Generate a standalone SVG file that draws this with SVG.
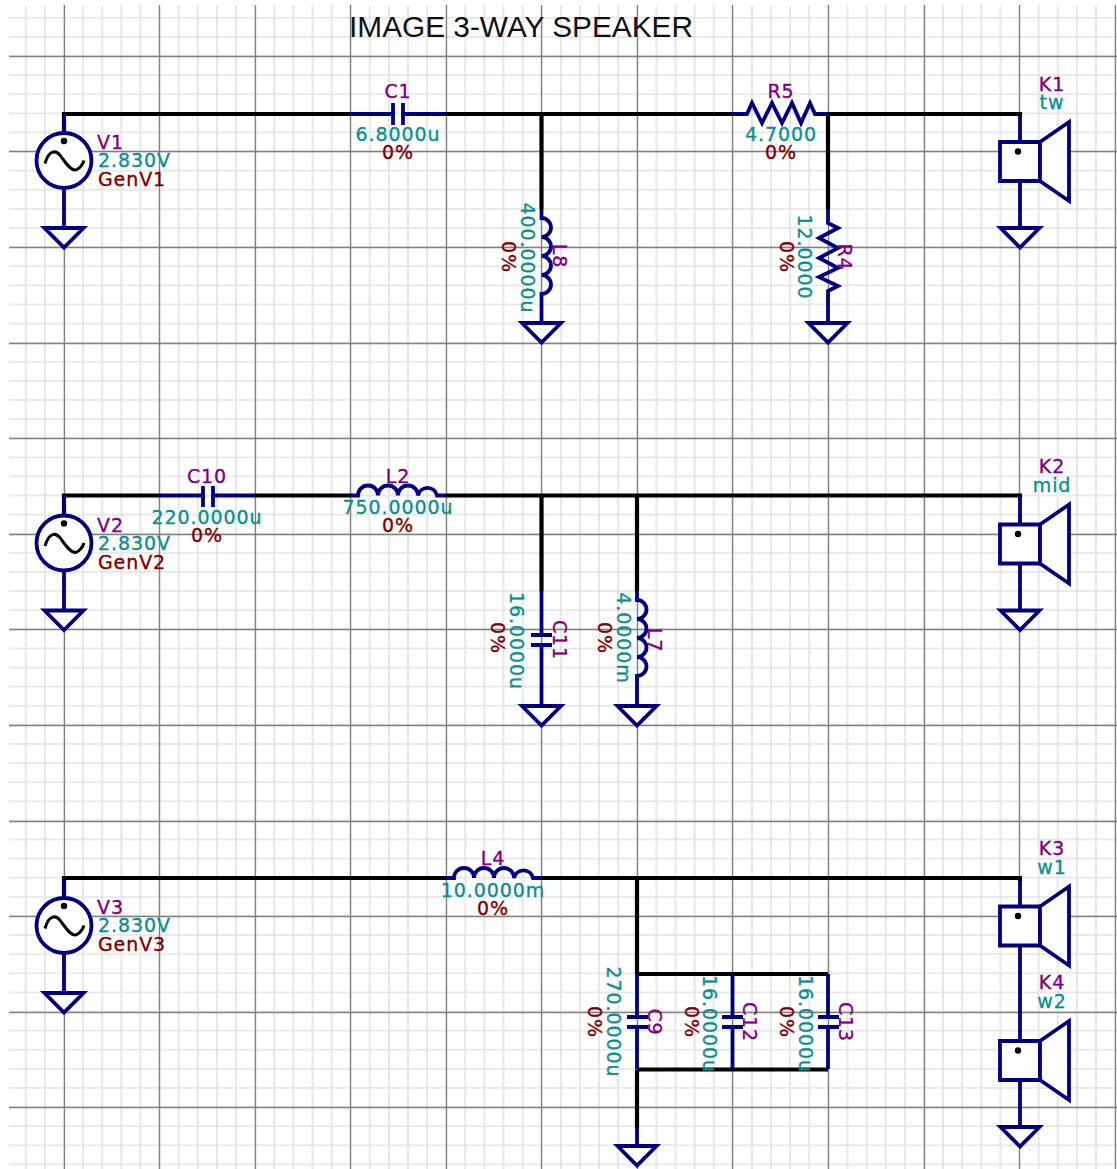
<svg xmlns="http://www.w3.org/2000/svg" width="1117" height="1169" viewBox="0 0 1117 1169">
<style>
.w{fill:none;stroke:#000;stroke-width:4.2}
.c{fill:none;stroke:#000080;stroke-width:3.8}
.f{fill:#fff;stroke:#000080;stroke-width:3.8}
text{font-family:"DejaVu Sans",Verdana,sans-serif;font-size:19px;text-anchor:middle;letter-spacing:.9px;stroke-width:.35px}
.n{fill:#800080;stroke:#800080}.v{fill:#0a8f8f;stroke:#0a8f8f}.t{fill:#800000;stroke:#800000}
.l{text-anchor:start}
.h{font-family:"Liberation Sans",Arial,sans-serif;font-size:29.800px;fill:#111;letter-spacing:0;stroke:none}
</style>
<defs>
<pattern id="gmin" patternUnits="userSpaceOnUse" x="54.45" y="46.45" width="19.11" height="19.11"><path d="M9.555 0V19.11M0 9.555H19.11" stroke="#e2e2e2" stroke-width="1.6" fill="none"/></pattern>
<g id="gnd"><path class="f" d="M-19.5 0H19.5L0 19.5Z"/></g>
<g id="src"><circle class="f" r="27.5"/><circle cy="-19.5" r="3.2" fill="#000"/><path d="M-19 3C-15-11-8-11-3-4S8 12 13 9 19 3 20 0" fill="none" stroke="#000" stroke-width="3"/></g>
<g id="spk"><path class="f" d="M-20 0H20V39H-20Z"/><path class="f" d="M20 0L49-20V59L20 39Z"/><circle cy="9.5" cx="-2" r="3.2" fill="#000"/></g>
</defs>
<rect width="1117" height="1169" fill="#fff"/>
<g id="grid"><rect x="9" y="5" width="1108" height="1164" fill="url(#gmin)"/>
<path fill="none" stroke="#808080" stroke-width="1.300" d="M64.500 5V1169M159.500 5V1169M255.500 5V1169M350.500 5V1169M446.500 5V1169M541.500 5V1169M637.500 5V1169M732.500 5V1169M828.500 5V1169M924.500 5V1169M1019.500 5V1169M1115.500 5V1169M9 56.500H1117M9 151.500H1117M9 247.500H1117M9 343.500H1117M9 438.500H1117M9 534.500H1117M9 629.500H1117M9 725.500H1117M9 821.500H1117M9 916.500H1117M9 1012.500H1117M9 1107.500H1117"/></g>
<text class="h" x="521" y="37">IMAGE 3-WAY SPEAKER</text>
<g id="wires">
<path class="w" d="M64 132V114H350M446 114H732M828 114H1020V116M541.500 114V209M828 114V209"/>
<path class="w" d="M64 515V495.500H159M255 495.500H350M446 495.500H1020V498M541.500 495.500V591M637 495.500V591"/>
<path class="w" d="M64 898V878H446M541 878H1020V881M637 878V974M637 1069.500V1128M637 974H828M637 1069.500H828"/>
</g>
<g id="V1"><path class="c" d="M64 116V132M64 188V228"/><use href="#src" x="64" y="160.500"/><use href="#gnd" x="64" y="228"/><text class="n l" x="97" y="149">V1</text><text class="v l" x="98" y="167">2.830V</text><text class="t l" x="98" y="186">GenV1</text></g>
<g id="V2"><path class="c" d="M64 497V515M64 571V610.500"/><use href="#src" x="64" y="543"/><use href="#gnd" x="64" y="610.500"/><text class="n l" x="97" y="532">V2</text><text class="v l" x="98" y="550">2.830V</text><text class="t l" x="98" y="569">GenV2</text></g>
<g id="V3"><path class="c" d="M64 880V898M64 954V993"/><use href="#src" x="64" y="925.500"/><use href="#gnd" x="64" y="993"/><text class="n l" x="97" y="914">V3</text><text class="v l" x="98" y="932">2.830V</text><text class="t l" x="98" y="951">GenV3</text></g>
<g id="C1"><path class="c" d="M350 114H393M403 114H446M393 103V125M403 103V125"/><text class="n" x="398" y="98">C1</text><text class="v" x="398" y="141">6.8000u</text><text class="t" x="398" y="159">0%</text></g>
<g id="R5"><path class="c" d="M732 114H747L752 103 762 123 772 103 782 123 792 103 801 123 810 103 815 114H828"/><text class="n" x="781" y="98">R5</text><text class="v" x="781" y="141">4.7000</text><text class="t" x="781" y="159">0%</text></g>
<g id="L8"><path class="c" d="M541.500 209V218A9.500 9.500 0 0 1 541.500 237A9.500 9.500 0 0 1 541.500 256A9.500 9.500 0 0 1 541.500 275A9.500 9.500 0 0 1 541.500 294V323"/><use href="#gnd" x="541.500" y="323"/><text class="n" transform="translate(553 256) rotate(90)">L8</text><text class="v" transform="translate(521 258) rotate(90)">400.0000u</text><text class="t" transform="translate(502 257) rotate(90)">0%</text></g>
<g id="R4"><path class="c" d="M828 209V223L838 228 819 238 838 248 819 258 838 268 819 277 838 286 828 291V323"/><use href="#gnd" x="828" y="323"/><text class="n" transform="translate(838 257) rotate(90)">R4</text><text class="v" transform="translate(798 257) rotate(90)">12.0000</text><text class="t" transform="translate(780 257) rotate(90)">0%</text></g>
<g id="K1"><path class="c" d="M1020 116V142M1020 181V228"/><use href="#spk" x="1020" y="142"/><use href="#gnd" x="1020" y="228"/><text class="n" x="1052" y="91">K1</text><text class="v" x="1052" y="109">tw</text></g>
<g id="C10"><path class="c" d="M159 495.500H203M213 495.500H255M203 486V507M213 486V507"/><text class="n" x="207" y="483">C10</text><text class="v" x="207" y="524">220.0000u</text><text class="t" x="207" y="542">0%</text></g>
<g id="L2"><path class="c" d="M350 495.500H358A9.750 9.750 0 0 1 378 495.500A9.750 9.750 0 0 1 398 495.500A9.750 9.750 0 0 1 418 495.500A9.750 9.750 0 0 1 437 495.500H446"/><text class="n" x="398" y="483">L2</text><text class="v" x="398" y="514">750.0000u</text><text class="t" x="398" y="532">0%</text></g>
<g id="C11"><path class="c" d="M541.500 591V635M541.500 645V706M531 635H552M531 645H552"/><use href="#gnd" x="541.500" y="706"/><text class="n" transform="translate(553 640) rotate(90)">C11</text><text class="v" transform="translate(510 641) rotate(90)">16.0000u</text><text class="t" transform="translate(491 638) rotate(90)">0%</text></g>
<g id="L7"><path class="c" d="M637 591V600A9.500 9.500 0 0 1 637 619A9.500 9.500 0 0 1 637 638A9.500 9.500 0 0 1 637 657A9.500 9.500 0 0 1 637 676V706"/><use href="#gnd" x="637" y="706"/><text class="n" transform="translate(648 640) rotate(90)">L7</text><text class="v" transform="translate(617 638) rotate(90)">4.0000m</text><text class="t" transform="translate(598 638) rotate(90)">0%</text></g>
<g id="K2"><path class="c" d="M1020 498V525M1020 564V610.500"/><use href="#spk" x="1020" y="524.500"/><use href="#gnd" x="1020" y="610.500"/><text class="n" x="1052" y="473">K2</text><text class="v" x="1052" y="492">mid</text></g>
<g id="L4"><path class="c" d="M446 878H454A9.750 9.750 0 0 1 474 878A9.750 9.750 0 0 1 494 878A9.750 9.750 0 0 1 514 878A9.750 9.750 0 0 1 533 878H541"/><text class="n" x="493" y="865">L4</text><text class="v" x="493" y="897">10.0000m</text><text class="t" x="493" y="915">0%</text></g>
<g id="C9"><path class="c" d="M637 974V1017M637 1027V1069M627 1017H648M627 1027H648"/><text class="n" transform="translate(648 1022) rotate(90)">C9</text><text class="v" transform="translate(607 1022) rotate(90)">270.0000u</text><text class="t" transform="translate(588 1022) rotate(90)">0%</text></g>
<g id="C12"><path class="c" d="M732.500 974V1017M732.500 1027V1069M722 1017H743M722 1027H743"/><text class="n" transform="translate(743 1022) rotate(90)">C12</text><text class="v" transform="translate(703 1024) rotate(90)">16.0000u</text><text class="t" transform="translate(685 1022) rotate(90)">0%</text></g>
<g id="C13"><path class="c" d="M828 974V1017M828 1027V1069M818 1017H839M818 1027H839"/><text class="n" transform="translate(839 1022) rotate(90)">C13</text><text class="v" transform="translate(799 1024) rotate(90)">16.0000u</text><text class="t" transform="translate(780 1022) rotate(90)">0%</text></g>
<g id="G9"><path class="c" d="M637 1128V1146"/><use href="#gnd" x="637" y="1146"/></g>
<g id="K3"><path class="c" d="M1020 881V907M1020 945V1041"/><use href="#spk" x="1020" y="906.500"/><text class="n" x="1052" y="855">K3</text><text class="v" x="1052" y="874">w1</text></g>
<g id="K4"><path class="c" d="M1020 1079V1127"/><use href="#spk" x="1020" y="1041"/><use href="#gnd" x="1020" y="1127"/><text class="n" x="1052" y="989">K4</text><text class="v" x="1052" y="1008">w2</text></g>
</svg>
